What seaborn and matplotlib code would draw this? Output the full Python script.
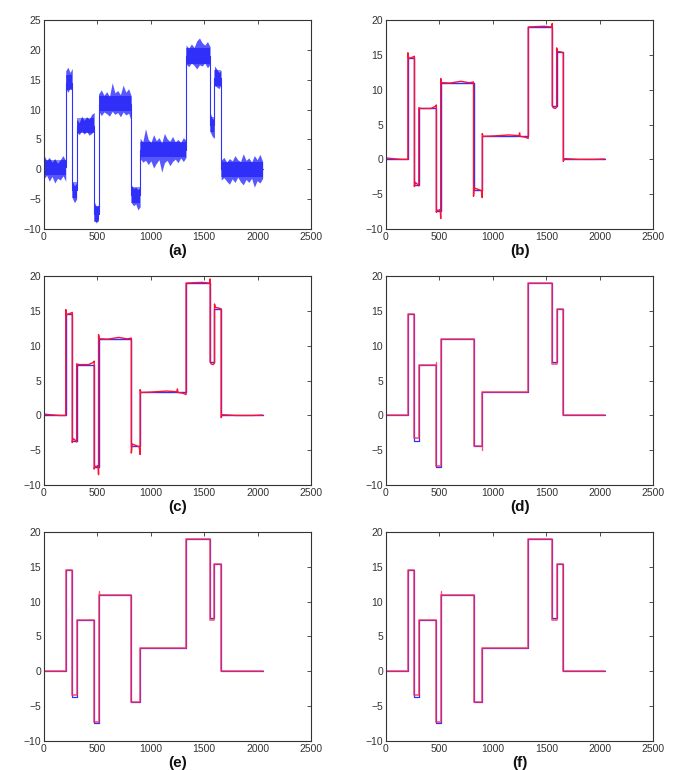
import numpy as np
import matplotlib.pyplot as plt
import seaborn as sns

sns.set_style("white")
plt.rcParams['font.family'] = ['Liberation Sans', 'DejaVu Sans']

# true piecewise-constant signal
breaks = [0, 205, 266, 307, 471, 512, 819, 901, 1331, 1556, 1597, 1659, 2048]
true_levels = [0.0, 14.6, -3.65, 7.3, -7.35, 10.95, -4.4, 3.3, 19.0, 7.67, 15.35, 0.0]
noisy_levels = [0.3, 14.5, -3.5, 7.3, -7.5, 11.0, -4.3, 3.3, 19.0, 7.5, 15.3, 0.0]

# (a) noisy observation: upper / lower envelope read per segment
noisy_upper = [
    [2.4, 1.5, 2.0, 1.2, 1.8, 1.0, 1.6, 2.3, 1.4],
    [16.5, 17.1, 16.2, 16.9],
    [-2.0, -2.8, -2.3],
    [8.4, 7.8, 8.9, 8.2, 8.8, 8.4, 9.2, 9.5],
    [-5.4, -6.2, -6.0],
    [12.6, 13.3, 12.4, 13.0, 12.2, 14.5, 12.8, 13.2, 12.5, 14.1, 12.9, 13.5, 12.2],
    [-2.6, -3.2, -3.0, -3.4, -3.0],
    [5.2, 4.6, 6.8, 5.0, 4.5, 5.8, 4.8, 5.3, 4.4, 6.0, 5.1, 4.7, 5.5, 4.6, 5.0, 4.5, 5.3, 4.8],
    [20.8, 20.3, 21.0, 20.4, 21.5, 22.0, 21.2, 20.8, 21.4, 20.5],
    [9.5, 8.5, 8.3],
    [17.3, 16.8, 16.2, 16.6],
    [1.5, 2.0, 1.2, 1.8, 1.4, 2.3, 1.6, 1.3, 2.6, 1.5, 1.9, 1.2, 2.3, 1.6, 2.5, 1.3],
]
noisy_lower = [
    [-1.6, -1.0, -2.0, -1.2, -2.3, -1.5, -1.8, -1.1, -2.0],
    [13.5, 12.9, 13.6, 13.2],
    [-4.8, -5.6, -5.0],
    [6.2, 5.8, 6.4, 5.9, 6.3, 5.7, 6.0, 6.5],
    [-8.5, -9.0, -8.3],
    [9.8, 9.0, 9.6, 9.3, 8.9, 9.7, 9.2, 9.5, 8.8, 9.6, 9.1, 9.4, 8.0],
    [-5.6, -6.1, -5.8, -6.8, -6.3],
    [1.8, 1.2, 1.5, 0.8, 1.4, 0.2, 1.0, 1.6, -0.5, 1.1, 1.5, 0.6, 1.3, 1.7, 1.1, 1.9, 1.3, 2.0],
    [17.6, 17.2, 17.8, 17.4, 16.8, 17.5, 17.3, 17.8, 17.0, 17.6],
    [6.3, 5.5, 5.2],
    [14.0, 13.8, 13.5, 14.2],
    [-1.8, -1.4, -2.0, -2.5, -1.6, -2.2, -1.3, -2.1, -2.6, -1.7, -2.2, -1.5, -3.0, -1.9, -2.3, -1.5],
]

# (b), (c) red estimates, read as polylines
red_bc_x = [0, 60, 150, 205, 205, 212, 240, 266, 266, 272, 290, 307, 307, 330, 420, 460, 471, 471,
            478, 500, 508, 512, 512, 520, 600, 700, 780, 819, 819, 826, 860, 893, 901, 901, 908,
            1000, 1150, 1245, 1250, 1255, 1300, 1331, 1331, 1400, 1480, 1550, 1556, 1556, 1565,
            1585, 1597, 1597, 1605, 1640, 1659, 1659, 1670, 1800, 1950, 2048]
red_b_y = [0.2, 0.1, 0.0, 0.0, 15.3, 14.5, 14.6, 14.8, -3.9, -3.3, -3.5, -3.8, 7.4, 7.3, 7.3, 7.6, 7.8, -7.6,
           -7.3, -7.3, -7.2, -8.5, 11.6, 11.0, 10.95, 11.2, 11.0, 11.1, -5.3, -4.1, -4.3, -4.5, -5.5, 3.7, 3.3,
           3.35, 3.5, 3.4, 3.8, 3.3, 3.2, 3.0, 19.0, 19.05, 19.1, 19.0, 19.5, 7.7, 7.4,
           7.3, 7.5, 16.0, 15.5, 15.4, 15.3, -0.3, 0.1, 0.0, 0.0, 0.05]
red_c_y = [0.2, 0.1, 0.0, 0.0, 15.2, 14.5, 14.6, 14.8, -3.9, -3.3, -3.5, -3.8, 7.4, 7.3, 7.3, 7.6, 7.8, -7.7,
           -7.3, -7.3, -7.2, -8.5, 11.6, 11.0, 10.95, 11.2, 11.0, 11.1, -5.4, -4.1, -4.3, -4.5, -5.6, 3.7, 3.3,
           3.35, 3.5, 3.4, 3.8, 3.3, 3.2, 3.0, 19.0, 19.05, 19.1, 19.0, 19.6, 7.7, 7.4,
           7.3, 7.5, 16.0, 15.5, 15.4, 15.3, -0.3, 0.1, 0.0, 0.0, 0.05]

# (d), (e), (f) red estimates, per segment level
red_d_levels = [0.0, 14.6, -3.3, 7.3, -7.2, 10.95, -4.4, 3.3, 19.0, 7.35, 15.35, 0.0]
red_e_levels = [0.0, 14.6, -3.4, 7.3, -7.3, 11.0, -4.4, 3.3, 19.0, 7.35, 15.4, 0.0]
red_f_levels = [0.0, 14.6, -3.4, 7.3, -7.3, 11.0, -4.4, 3.3, 19.0, 7.35, 15.4, 0.0]
# small overshoots at jumps: (x, y_from, y_to)
red_d_spikes = [(468, 7.3, 7.6), (897, -4.4, -4.9)]
red_e_spikes = [(512, 11.0, 11.5)]
red_f_spikes = [(512, 11.0, 11.5)]

labels = ["(a)", "(b)", "(c)", "(d)", "(e)", "(f)"]


def step_xy(levels):
    xs = np.repeat(breaks, 2)[1:-1]
    ys = np.repeat(levels, 2)
    return xs, ys


def style_ax(ax, ylim, yticks):
    ax.set_xlim(0, 2500)
    ax.set_ylim(*ylim)
    ax.set_xticks([0, 500, 1000, 1500, 2000, 2500])
    ax.set_yticks(yticks)
    ax.tick_params(direction="in", top=True, right=True, length=3, width=0.6,
                   labelsize=7.5, colors="#333333", pad=2)
    for s in ax.spines.values():
        s.set_color("#333333")
        s.set_linewidth(0.8)


fig = plt.figure(figsize=(6.85, 7.7), dpi=100)
lefts = [0.064, 0.5635]
bottoms = [0.7026, 0.370, 0.0377]
axes = []
for r in range(3):
    for c in range(2):
        axes.append(fig.add_axes([lefts[c], bottoms[r], 0.39, 0.2714]))

# (a)
ax = axes[0]
tx, ty = step_xy(true_levels)
nx, ny = step_xy(noisy_levels)
for i in range(len(noisy_levels)):
    xs = np.linspace(breaks[i], breaks[i + 1], len(noisy_upper[i]))
    ax.fill_between(xs, noisy_lower[i], noisy_upper[i], color="#1010ff", alpha=0.7, lw=0)
    ax.fill_between([breaks[i], breaks[i + 1]], noisy_levels[i] - 1.3, noisy_levels[i] + 1.3,
                    color="#0000ee", alpha=0.45, lw=0)
sns.lineplot(x=nx, y=ny, ax=ax, color="#3030ff", lw=0.8, sort=False, estimator=None)
style_ax(ax, (-10, 25), range(-10, 26, 5))

# (b), (c)
for ax, ry in [(axes[1], red_b_y), (axes[2], red_c_y)]:
    sns.lineplot(x=tx, y=ty, ax=ax, color="#3030ff", lw=1.0, sort=False, estimator=None)
    sns.lineplot(x=red_bc_x, y=ry, ax=ax, color="#ff1030", lw=1.0, sort=False, estimator=None)
    style_ax(ax, (-10, 20), range(-10, 21, 5))

# (d), (e), (f)
for ax, lv, sp in [(axes[3], red_d_levels, red_d_spikes),
                   (axes[4], red_e_levels, red_e_spikes),
                   (axes[5], red_f_levels, red_f_spikes)]:
    sns.lineplot(x=tx, y=ty, ax=ax, color="#3030ff", lw=0.9, sort=False, estimator=None)
    rx, ry = step_xy(lv)
    sns.lineplot(x=rx, y=ry, ax=ax, color="#ff2a50", lw=1.2, alpha=0.8, sort=False, estimator=None)
    for x0, y0, y1 in sp:
        ax.plot([x0, x0], [y0, y1], color="#ff2a50", lw=1.0, alpha=0.8)
    style_ax(ax, (-10, 20), range(-10, 21, 5))

for ax, lab in zip(axes, labels):
    ax.set_xlabel("")
    ax.set_ylabel("")
    ax.text(0.5, -0.105, lab, transform=ax.transAxes, ha="center", va="center",
            fontsize=11, fontweight="bold", color="#111111")

fig.savefig("out.png", dpi=100)
